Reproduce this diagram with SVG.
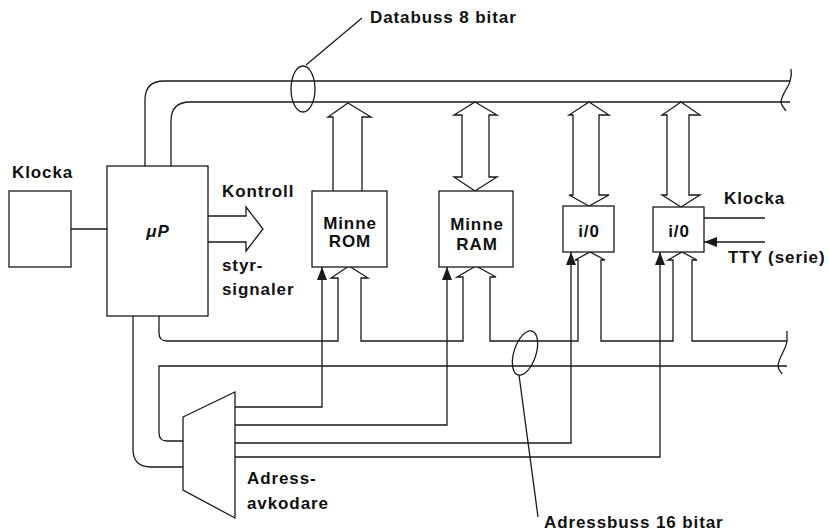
<svg xmlns="http://www.w3.org/2000/svg" width="829" height="531" viewBox="0 0 829 531">
<style>
.s{fill:none;stroke:#1a1a1a;stroke-width:1.3;stroke-linejoin:miter}
.b{fill:#fff;stroke:#1a1a1a;stroke-width:1.3}
.t{font-family:"Liberation Sans",Arial,sans-serif;font-weight:bold;font-size:17px;letter-spacing:0.9px;fill:#111}
.c{text-anchor:middle}
</style>
<defs>
<marker id="ah" markerWidth="13" markerHeight="10" refX="13" refY="5" orient="auto" markerUnits="userSpaceOnUse" viewBox="0 0 13 10">
<path d="M0,0 L13,5 L0,10 Z" fill="#1a1a1a"/>
</marker>
</defs>
<rect width="829" height="531" fill="#fff"/>

<g id="connectors">
  <!-- data bus -->
  <path class="s" d="M145,166 V100 Q145,81 164,81 H790"/>
  <path class="s" d="M171,166 V121 Q171,102 190,102 H790"/>
  <path class="s" d="M791,69 C792,74 791,78 790,81 C789,87 782,93 781,102 C781,105 784,108 786,111"/>
  <!-- data bus arrows -->
  <path class="s" d="M333,191 V117 H328 L348,103 L371,117 H362 V191"/>
  <path class="s" d="M475,102 L497,115 H489 V177 H497 L475,191 L454,177 H462 V115 H454 Z"/>
  <path class="s" d="M589,102 L609,115 H599 V195 H609 L589,206 L569,195 H573 V115 H569 Z"/>
  <path class="s" d="M681,102 L700,115 H689 V195 H700 L681,207 L662,195 H667 V115 H662 Z"/>
  <!-- Kontroll arrow -->
  <path class="s" d="M208,216 H246 V207 L263,229 L246,251 V242 H208"/>
  <!-- clock to uP -->
  <path class="s" d="M71,229 H107"/>
  <!-- address bus -->
  <path class="s" d="M159,316 V333 Q159,341 167,341 H338 V278 H331 L349,266 L368,278 H361 V341 H463 V277 H457 L476,266 L496,277 H490 V341 H578 V260 H575 L590,252 L605,260 H601 V341 H673 V260 H668 L682,252 L697,260 H692 V341 H787"/>
  <path class="s" d="M787,366 H159 V433 Q159,441 167,441 H183"/>
  <path class="s" d="M133,316 V449 Q133,467 151,467 H183"/>
  <path class="s" d="M787,331 V341 C786,350 779,356 778,366 C778,369 780,371 782,374"/>
  <!-- decoder select lines -->
  <path class="s" d="M235,407 H322 V267" marker-end="url(#ah)"/>
  <path class="s" d="M235,425 H447 V267" marker-end="url(#ah)"/>
  <path class="s" d="M235,443 H571 V252" marker-end="url(#ah)"/>
  <path class="s" d="M235,457 H660 V252" marker-end="url(#ah)"/>
  <!-- right-side I/O lines -->
  <path class="s" d="M704,218 H765"/>
  <path class="s" d="M765,242 H704" marker-end="url(#ah)"/>
  <!-- bus markers -->
  <ellipse class="s" cx="303" cy="89" rx="12" ry="23"/>
  <path class="s" d="M306,65 L362,18"/>
  <ellipse class="s" cx="525" cy="353" rx="11" ry="23" transform="rotate(18 525 353)"/>
  <path class="s" d="M519,375 L538,517"/>
</g>

<g id="klocka">
  <rect class="b" x="9" y="191" width="62" height="76"/>
  <text class="t" x="12" y="178">Klocka</text>
</g>
<g id="mp">
  <rect class="b" x="107" y="166" width="101" height="150"/>
  <text class="t c" x="158" y="237" font-style="italic">μP</text>
</g>
<g id="rom">
  <rect class="b" x="312" y="191" width="75" height="76"/>
  <text class="t c" x="350" y="229">Minne</text>
  <text class="t c" x="350" y="247">ROM</text>
</g>
<g id="ram">
  <rect class="b" x="439" y="191" width="74" height="76"/>
  <text class="t c" x="477" y="230">Minne</text>
  <text class="t c" x="477" y="250">RAM</text>
</g>
<g id="io1">
  <rect class="b" x="563" y="206" width="51" height="46"/>
  <text class="t c" x="589" y="237">i/0</text>
</g>
<g id="io2">
  <rect class="b" x="653" y="207" width="51" height="45"/>
  <text class="t c" x="679" y="237">i/0</text>
</g>
<g id="decoder">
  <path class="b" d="M183,417 L235,392 L235,518 L183,490 Z"/>
  <text class="t" x="247" y="484">Adress-</text>
  <text class="t" x="247" y="509">avkodare</text>
</g>
<g id="labels">
  <text class="t" x="370" y="23">Databuss 8 bitar</text>
  <text class="t" x="222" y="197">Kontroll</text>
  <text class="t" x="222" y="271">styr-</text>
  <text class="t" x="222" y="295">signaler</text>
  <text class="t" x="724" y="204">Klocka</text>
  <text class="t" x="728" y="263">TTY (serie)</text>
  <text class="t" x="544" y="528">Adressbuss 16 bitar</text>
</g>
</svg>
